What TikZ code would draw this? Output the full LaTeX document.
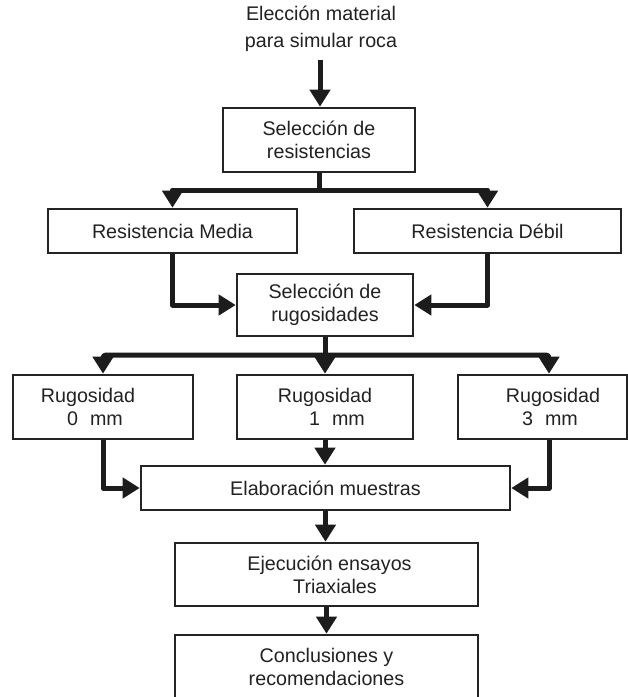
\documentclass[tikz,border=0pt]{standalone}
\usepackage{fontspec}
\setmainfont{Liberation Sans}
\usetikzlibrary{arrows.meta}
\definecolor{boxc}{HTML}{242424}
\definecolor{linec}{HTML}{1C1C1C}
\definecolor{txt}{HTML}{222222}
\newcommand\boxfont{\fontsize{19.7}{23}\selectfont}
\newcommand\titlefont{\fontsize{19.7}{27}\selectfont}
\begin{document}
\begin{tikzpicture}[x=1pt,y=-1pt,
  box/.style={draw=boxc, line width=2.6pt, inner sep=0pt, align=center, font=\boxfont, text=txt},
  conn/.style={draw=linec, line width=5pt, line join=round},
  arr/.style={conn, -{Triangle[length=17pt,width=20pt]}}]
\clip (0,0) rectangle (628,697);
\fill[white] (0,0) rectangle (628,697);
% title
\node[align=center, font=\titlefont, text=txt, inner sep=0pt] (title) at (321,29) {Elección material\\para simular roca};
\coordinate (t0) at (320,60);
% boxes
\node[box, minimum width=192pt, minimum height=64pt] (sel1) at (319,140) {Selección de\\resistencias};
\node[box, minimum width=249pt, minimum height=44pt] (media) at (172.5,231) {Resistencia Media};
\node[box, minimum width=267pt, minimum height=44pt] (debil) at (487.5,231) {Resistencia Débil};
\node[box, minimum width=176pt, minimum height=62pt] (selrug) at (325,305) {Selección de\\rugosidades};
\node[box, minimum width=180pt, minimum height=64pt] (r0) at (103,407) {Rugosidad\hspace*{30pt}\\0\hspace{12pt}mm\hspace*{16pt}};
\node[box, minimum width=176pt, minimum height=64pt] (r1) at (325,407) {Rugosidad\\\hspace*{24pt}1\hspace{12pt}mm};
\node[box, minimum width=169pt, minimum height=64pt] (r3) at (542.5,407) {\hspace*{21pt}Rugosidad\\\hspace*{15pt}3\hspace{12pt}mm};
\node[box, minimum width=369pt, minimum height=44pt] (elab) at (325.5,488) {Elaboración muestras};
\node[box, minimum width=303pt, minimum height=63pt] (ejec) at (326.5,574.5) {\hspace*{6pt}Ejecución ensayos\\\hspace*{17pt}Triaxiales};
\node[box, minimum width=303pt, minimum height=64pt] (concl) at (326.5,667) {Conclusiones y\\recomendaciones};
% connectors
\draw[arr] (t0) -- (t0 |- sel1.north);
\coordinate (b1) at (319,190);
\draw[conn] (sel1.south) -- (b1);
\draw[arr] (b1) -| (media.north);
\draw[arr] (b1) -| (debil.north);
\draw[arr] (media.south) |- (selrug.west);
\draw[arr] (debil.south) |- (selrug.east);
\coordinate (b2) at (325,355);
\coordinate (c3) at (549,355);
\draw[conn] (selrug.south) -- (b2);
\draw[arr, rounded corners=3pt] (b2) -| (r0.north);
\draw[arr] (b2) -- (r1.north);
\draw[arr, rounded corners=3pt] (b2) -- (c3) -- (c3 |- r3.north);
\draw[arr] (r0.south) |- (elab.west);
\draw[arr] (c3 |- r3.south) |- (elab.east);
\draw[arr] (r1.south) -- (r1.south |- elab.north);
\draw[arr] (elab.south) -- (elab.south |- ejec.north);
\draw[arr] (ejec.south) -- (ejec.south |- concl.north);
\end{tikzpicture}
\end{document}
